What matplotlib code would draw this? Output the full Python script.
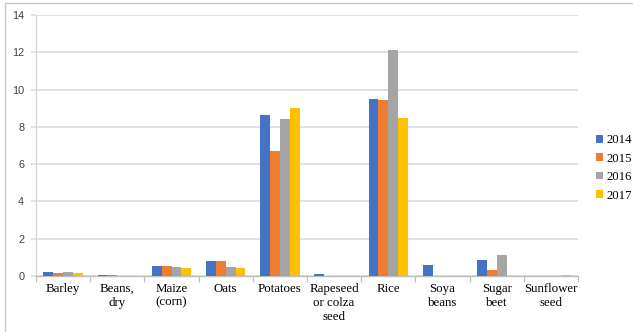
import numpy as np
import matplotlib
matplotlib.use('Agg')
import matplotlib.pyplot as plt
from matplotlib.patches import Patch
from matplotlib.lines import Line2D

# crop production by year
categories = ['Barley', 'Beans,\ndry', 'Maize\n(corn)', 'Oats', 'Potatoes',
              'Rapeseed\nor colza\nseed', 'Rice', 'Soya\nbeans', 'Sugar\nbeet',
              'Sunflower\nseed']
years = ['2014', '2015', '2016', '2017']
v2014 = [0.20, 0.05, 0.52, 0.82, 8.65, 0.10, 9.48, 0.57, 0.86, 0.00]
v2015 = [0.14, 0.05, 0.52, 0.82, 6.72, 0.00, 9.44, 0.00, 0.34, 0.00]
v2016 = [0.20, 0.00, 0.47, 0.48, 8.40, 0.00, 12.1, 0.00, 1.13, 0.00]
v2017 = [0.14, 0.00, 0.41, 0.43, 9.03, 0.00, 8.48, 0.00, 0.00, 0.05]
colors = ['#4472C4', '#ED7D31', '#A5A5A5', '#FFC000']

serif = 'Liberation Serif'
grid_c = '#d9d9d9'

fig = plt.figure(figsize=(6.33, 3.32), dpi=100)
ax = fig.add_axes([36 / 633, 56 / 332, 542 / 633, 261 / 332])

x = np.arange(len(categories))
w = 0.182
series = [v2014, v2015, v2016, v2017]
for i, (vals, c) in enumerate(zip(series, colors)):
    ax.bar(x + (i - 1.5) * w, vals, width=w, color=c, label=years[i], zorder=3)

ax.set_xlim(-0.5, len(categories) - 0.5)
ax.set_ylim(0, 14)
ax.set_yticks(range(0, 15, 2))
ax.yaxis.grid(True, color=grid_c, linewidth=1.1, zorder=0)

# category labels between boundary ticks
ax.set_xticks(x)
ax.set_xticklabels(categories, fontfamily=serif, fontsize=9.3, linespacing=1.2)
ax.tick_params(axis='x', length=0, pad=5)
ax.set_xticks(np.arange(-0.5, len(categories)), minor=True)
ax.tick_params(axis='x', which='minor', length=4, width=0.9, color='#bfbfbf')

ax.tick_params(axis='y', length=3.5, width=1.1, color=grid_c, pad=5,
               labelsize=7.8, labelcolor='#404040')
for lab in ax.get_yticklabels():
    lab.set_fontfamily('Liberation Sans')

for s in ['top', 'right']:
    ax.spines[s].set_visible(False)
ax.spines['left'].set_color(grid_c)
ax.spines['left'].set_linewidth(1.0)
ax.spines['bottom'].set_color('#bfbfbf')
ax.spines['bottom'].set_linewidth(1.0)

handles = [Patch(facecolor=c, edgecolor='none') for c in colors]
fig.legend(handles, years, loc='upper left', bbox_to_anchor=(590 / 633, 1 - 128 / 332),
           frameon=False, prop={'family': serif, 'size': 9.2},
           handlelength=0.55, handleheight=0.55, handletextpad=0.25,
           labelspacing=0.5, borderpad=0)

# frame of the surrounding document box
fig.add_artist(Line2D([5 / 633, 5 / 633], [0, 1 - 3 / 332], transform=fig.transFigure,
                      color='#c8c8c8', linewidth=1.0))
fig.add_artist(Line2D([5 / 633, 1], [1 - 3 / 332, 1 - 3 / 332], transform=fig.transFigure,
                      color='#c8c8c8', linewidth=1.0))

fig.savefig('out.png', dpi=100, facecolor='white')
